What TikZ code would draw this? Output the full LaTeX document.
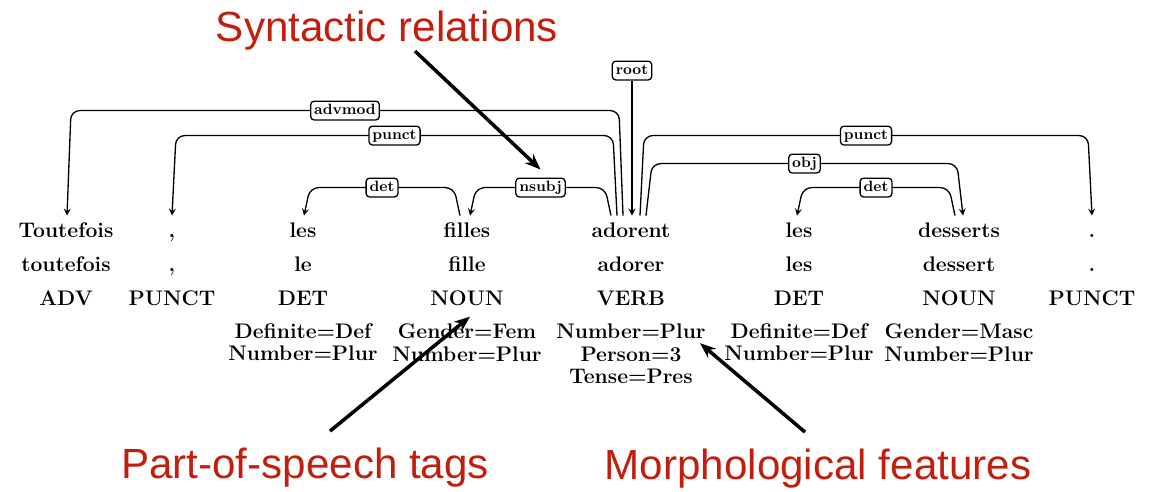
\documentclass[tikz,border=0pt]{standalone}
\usepackage{fontspec}
\newfontfamily\annotfont{Liberation Sans}
\usetikzlibrary{positioning,calc,arrows.meta}
\definecolor{annotred}{RGB}{194,30,14}

\begin{document}
\begin{tikzpicture}[x=0.02cm, y=0.02cm, >=stealth,
    form/.style={font=\fontsize{12}{13}\selectfont\bfseries, anchor=base,
      inner xsep=0pt, inner ysep=3.5pt, text height=8.5pt},
    token/.style={font=\fontsize{12}{13}\selectfont\bfseries, anchor=base, inner sep=0pt},
    feats/.style={font=\fontsize{12}{13}\selectfont\bfseries, align=center, inner sep=0pt},
    dep/.style={->, line width=0.75pt, rounded corners=5pt},
    rel/.style={draw, fill=white, rounded corners=2pt, line width=0.75pt,
      inner xsep=2pt, inner ysep=1.5pt, text height=6pt, text depth=1.7pt,
      font=\fontsize{8.5}{9}\selectfont\bfseries},
    note/.style={anchor=base, inner sep=0pt, text=annotred,
      font=\annotfont\fontsize{24}{28}\selectfont},
    pointer/.style={-{Stealth[length=9pt,width=7pt]}, line width=2pt}]

  \useasboundingbox (0,0) rectangle (1156,491);

  % form, lemma and tag of every token
  \foreach \w/\l/\p/\x [count=\i] in {Toutefois/toutefois/ADV/66, {,}/{,}/PUNCT/172,
      les/le/DET/303, filles/fille/NOUN/467, adorent/adorer/VERB/631,
      les/les/DET/799, desserts/dessert/NOUN/959, ././PUNCT/1092}
  {
    \node [form] (word-\i) at (\x,254) {\w};
    \node [token] (lemma-\i) at (\x,220) {\l};
    \node [token] (pos-\i) at (\x,186) {\p};
  }

  \foreach \f [count=\i from 3] in {{Definite=Def\\Number=Plur}, {Gender=Fem\\Number=Plur},
      {Number=Plur\\Person=3\\Tense=Pres}, {Definite=Def\\Number=Plur},
      {Gender=Masc\\Number=Plur}}
    \node [feats, below=10pt of pos-\i] (feat-\i) {\f};

  % dependency arcs
  \foreach \h/\hbot/\htop/\d/\dbot/\dtop/\lift/\lbl in {
      5/-8/-12/1/1/5/105/advmod,
      5/-14/-18/2/0/4/80/punct,
      5/-20/-26/4/3/9/28/nsubj,
      4/-7/-13/3/1/7/28/det,
      5/9/13/8/0/-4/80/punct,
      5/15/21/7/4/-2/52/obj,
      7/-4/-10/6/-2/4/28/det}
    \draw [dep] ($(word-\h.north)+(\hbot,0)$) -- ($(word-\h.north)+(\htop,\lift)$)
      -- node [rel] (rel-\d) {\lbl} ($(word-\d.north)+(\dtop,\lift)$)
      -- ($(word-\d.north)+(\dbot,0)$);

  \node [rel] (rel-5) at ($(word-5.north)+(1,145)$) {root};
  \draw [dep] (rel-5) -- ($(word-5.north)+(1,0)$);

  % annotations
  \node [note] (syntax) at (387,449) {Syntactic relations};
  \node [note] (postags) at (305,13) {Part-of-speech tags};
  \node [note] (morpho) at (818,12) {Morphological features};

  \draw [pointer] ($(syntax.south)+(28,0)$) -- ($(rel-4.north)+(0,8)$);
  \draw [pointer] ($(postags.north)+(25,16)$) -- ($(pos-4.south)+(3,-11)$);
  \draw [pointer] ($(morpho.north)+(-13,16)$) -- ($(feat-5.north east)+(-6,-20)$);

\end{tikzpicture}
\end{document}
